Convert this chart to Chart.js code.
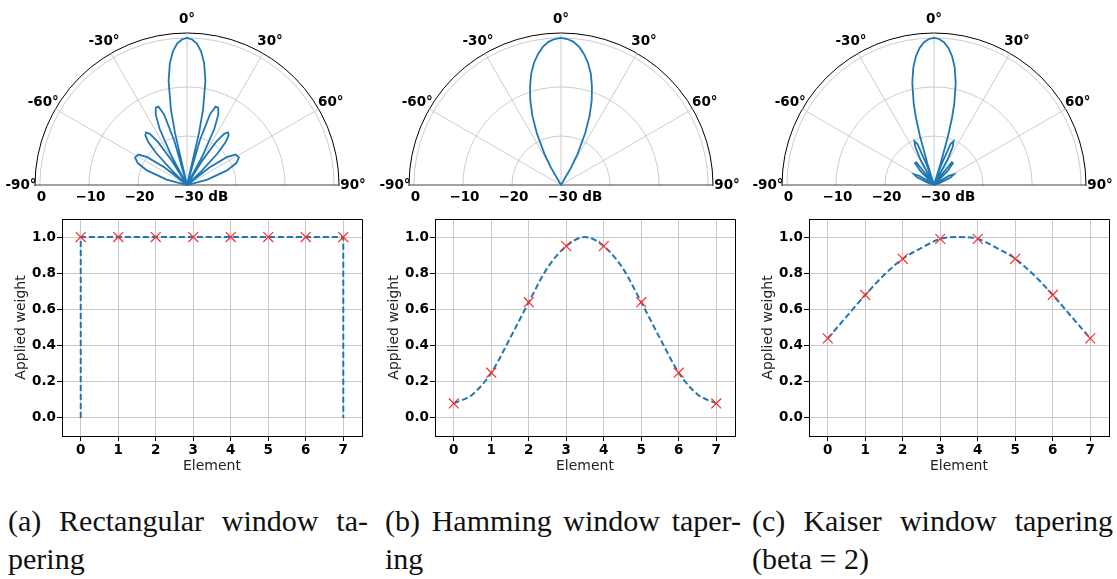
<!DOCTYPE html>
<html>
<head>
<meta charset="utf-8">
<script src="https://cdn.jsdelivr.net/npm/chart.js@4.4.1/dist/chart.umd.min.js"></script>
<style>
    body { margin: 0; background: #fff; }
    #page { position: relative; width: 1117px; height: 579px; overflow: hidden; background: #fff; }
    .polar { position: absolute; top: 0; width: 374px; height: 210px; overflow: hidden; }
    .weights { position: absolute; top: 205px; }
    .cap { position: absolute; font-family: 'Liberation Serif', serif; font-size: 30px; line-height: 38px; color: #111; white-space: nowrap; }
    .cap.j { text-align: justify; text-align-last: justify; white-space: normal; }
</style>
</head>
<body>
<div id="page">
    <div class="polar" style="left:0px"><canvas id="polarA" width="374" height="374"></canvas></div>
    <div class="polar" style="left:374px"><canvas id="polarB" width="374" height="374"></canvas></div>
    <div class="polar" style="left:747px"><canvas id="polarC" width="374" height="374"></canvas></div>

    <canvas class="weights" id="weightsA" width="373" height="275" style="left:0px"></canvas>
    <canvas class="weights" id="weightsB" width="373" height="275" style="left:373px"></canvas>
    <canvas class="weights" id="weightsC" width="373" height="275" style="left:747px"></canvas>

    <div class="cap j" style="left:8px; top:502px; width:360px">(a) Rectangular window ta-</div>
    <div class="cap" style="left:8px; top:540px">pering</div>
    <div class="cap j" style="left:385px; top:502px; width:356px">(b) Hamming window taper-</div>
    <div class="cap" style="left:385px; top:540px">ing</div>
    <div class="cap j" style="left:752px; top:502px; width:361px">(c) Kaiser window tapering</div>
    <div class="cap" style="left:752px; top:540px">(beta = 2)</div>
</div>

<script>
// Array elements and axis ticks
const elements = [0, 1, 2, 3, 4, 5, 6, 7];
const weightTicks = [0, 0.2, 0.4, 0.6, 0.8, 1.0];

// Weights applied to each element (red crosses)
const rectWeights = [1, 1, 1, 1, 1, 1, 1, 1];
const hammingWeights = [0.08, 0.25, 0.64, 0.95, 0.95, 0.64, 0.25, 0.08];
const kaiserWeights = [0.44, 0.68, 0.88, 0.99, 0.99, 0.88, 0.68, 0.44];

// Continuous window shape (dashed line)
const rectCurveX = [0, 0, 7, 7];
const rectCurveY = [0, 1, 1, 0];
const halfStepX = [0, 0.5, 1, 1.5, 2, 2.5, 3, 3.5, 4, 4.5, 5, 5.5, 6, 6.5, 7];
const hammingCurveY = [0.08, 0.13, 0.25, 0.44, 0.64, 0.83, 0.95, 1.0, 0.95, 0.83, 0.64, 0.44, 0.25, 0.13, 0.08];
const kaiserCurveY = [0.44, 0.56, 0.68, 0.79, 0.88, 0.94, 0.99, 1.0, 0.99, 0.94, 0.88, 0.79, 0.68, 0.56, 0.44];

// Beam patterns in dB, one side only (patterns are symmetric about 0°)
const rectAngles = [0, 2, 4, 6, 8, 10, 12, 13, 14.5, 16, 18, 20, 22, 24, 26, 28, 30, 32, 34, 36, 38, 40, 42, 44, 46, 48.5, 50, 52, 55, 58, 62, 66, 70, 75, 80, 90];
const rectDb = [0, -0.3, -1.1, -2.6, -4.9, -8.4, -14.2, -19.1, -30, -20.6, -14.9, -13.0, -13.0, -14.3, -17.3, -23.2, -30, -24.1, -19.4, -17.1, -16.4, -16.8, -18.2, -21.0, -25.9, -30, -30, -24.2, -20.1, -18.3, -18.0, -19.0, -21.3, -25.7, -30, -30];

const hammingAngles = [0, 2.5, 5, 7.5, 10, 12.5, 15, 17.5, 20, 22.5, 25, 28, 30, 32.5, 90];
const hammingDb = [0, -0.2, -0.7, -1.6, -2.9, -4.5, -6.5, -9.0, -11.7, -14.8, -18.3, -22.8, -25.9, -30, -30];

const kaiserAngles = [0, 2, 4, 6, 8, 10, 12, 14, 15, 16, 17, 18.5, 20, 22, 24, 26, 28, 30, 32, 35, 38, 41, 44, 47, 52, 55, 58, 62, 66, 70, 76, 90];
const kaiserDb = [0, -0.2, -0.8, -1.9, -3.5, -5.7, -8.7, -12.9, -15.8, -19.6, -25.3, -30, -25.4, -21.0, -20.2, -21.2, -24.0, -30, -30, -28.2, -24.1, -24.1, -26.0, -30, -30, -29.0, -26.4, -25.4, -26.3, -28.6, -30, -30];

// Polar axis ticks
const degreeTicks = [-90, -60, -30, 0, 30, 60, 90];
const dbTicks = [0, -10, -20, -30];
const dbRings = [-20, -10, 0];
const dbMin = -30;
const dbMax = 1;

Chart.defaults.font.family = "'DejaVu Sans', sans-serif";
Chart.defaults.color = '#000';

// Radar spokes every 0.5 degree, spoke 0 at the top, clockwise
const STEPS = 720;
const spokeLabels = Array.from({ length: STEPS }, (_, i) => i / 2);

function spoke(deg) {
    return Math.round((deg * 2 + STEPS) % STEPS);
}

function patternData(angles, db) {
    const out = new Array(STEPS).fill(null);
    angles.forEach((a, i) => {
        out[spoke(a)] = db[i];
        out[spoke(-a)] = db[i];
    });
    return out;
}

// Keep only the upper half of the radar and add matplotlib-like labels
const halfPolar = {
    id: 'halfPolar',
    beforeDraw(chart) {
        const r = chart.scales.r;
        const ctx = chart.ctx;
        ctx.save();
        ctx.beginPath();
        ctx.rect(0, 0, chart.width, r.yCenter + 1);
        ctx.clip();
    },
    afterDatasetsDraw(chart) {
        chart.ctx.restore();
    },
    afterDraw(chart) {
        const r = chart.scales.r;
        const ctx = chart.ctx;
        ctx.save();
        ctx.fillStyle = '#000';
        ctx.font = "bold 13.5px 'DejaVu Sans'";
        ctx.textAlign = 'center';
        ctx.textBaseline = 'middle';
        degreeTicks.forEach(d => {
            const p = r.getPointPosition(spoke(d), r.drawingArea + 14);
            ctx.fillText(d + '°', p.x, p.y);
        });
        // radial tick labels along the left baseline
        ctx.textAlign = 'left';
        dbTicks.forEach(v => {
            const num = '\u2212' + Math.abs(v);
            const txt = v === 0 ? '0' : (v === dbMin ? num + ' dB' : num);
            const w = ctx.measureText(v === 0 ? '0' : num).width;
            const x = r.xCenter - r.getDistanceFromCenterForValue(v) + 1.5;
            ctx.fillText(txt, x - w / 2, r.yCenter + 12);
        });
        ctx.restore();
    }
};

function polarChart(id, angles, db) {
    new Chart(document.getElementById(id), {
        type: 'radar',
        data: {
            labels: spokeLabels,
            datasets: [{
                data: patternData(angles, db),
                borderColor: '#1f77b4',
                backgroundColor: 'transparent',
                borderWidth: 1.8,
                fill: false,
                spanGaps: true,
                tension: 0,
                pointRadius: 0,
                pointHitRadius: 0
            }]
        },
        options: {
            responsive: false,
            animation: false,
            events: [],
            layout: { padding: { left: 35, right: 35, top: 33, bottom: 37 } },
            plugins: { legend: { display: false }, tooltip: { enabled: false } },
            scales: {
                r: {
                    min: dbMin,
                    max: dbMax,
                    beginAtZero: false,
                    afterBuildTicks: s => { s.ticks = [dbMin, ...dbRings, dbMax].map(v => ({ value: v })); },
                    ticks: { display: false },
                    pointLabels: { display: false },
                    grid: {
                        circular: true,
                        color: c => (c.tick && c.tick.value === dbMax ? '#000' : '#cccccc'),
                        lineWidth: 1
                    },
                    angleLines: {
                        color: c => (c.index === spoke(90) || c.index === spoke(-90) ? '#444' : '#cccccc'),
                        lineWidth: c => (c.index % 60 === 0 ? 1 : 0)
                    }
                }
            }
        },
        plugins: [halfPolar]
    });
}

// Full box round the plot area (top and right spines)
const frameBox = {
    id: 'frameBox',
    afterDraw(chart) {
        const { left, top, right, bottom } = chart.chartArea;
        const ctx = chart.ctx;
        ctx.save();
        ctx.strokeStyle = '#000';
        ctx.lineWidth = 1;
        ctx.beginPath();
        ctx.moveTo(Math.round(left), Math.round(top) + 0.5);
        ctx.lineTo(Math.round(right) + 0.5, Math.round(top) + 0.5);
        ctx.lineTo(Math.round(right) + 0.5, Math.round(bottom));
        ctx.stroke();
        ctx.restore();
    }
};

function weightChart(id, curveX, curveY, weights, smooth) {
    new Chart(document.getElementById(id), {
        type: 'scatter',
        data: {
            datasets: [{
                data: elements.map((x, i) => ({ x: x, y: weights[i] })),
                pointStyle: 'crossRot',
                pointRadius: 7,
                pointBorderColor: '#ff2a2a',
                pointBorderWidth: 1.2,
                showLine: false
            }, {
                data: curveX.map((x, i) => ({ x: x, y: curveY[i] })),
                showLine: true,
                borderColor: '#1f77b4',
                borderWidth: 2,
                borderDash: [6, 3],
                pointRadius: 0,
                tension: 0,
                cubicInterpolationMode: smooth ? 'monotone' : 'default'
            }]
        },
        options: {
            responsive: false,
            animation: false,
            events: [],
            layout: { padding: { top: 14, right: 11 } },
            plugins: { legend: { display: false }, tooltip: { enabled: false } },
            scales: {
                x: {
                    type: 'linear',
                    min: -0.5,
                    max: 7.5,
                    afterBuildTicks: s => { s.ticks = elements.map(v => ({ value: v })); },
                    afterFit: s => { s.height = 44; },
                    grid: { color: '#c8c8c8', tickColor: '#000', tickLength: 5 },
                    border: { color: '#000', width: 1 },
                    ticks: { font: { weight: 'bold', size: 13.5 }, color: '#000', padding: 1, maxRotation: 0 },
                    title: { display: true, text: 'Element', font: { size: 14 }, color: '#222', padding: { top: 0, bottom: 5 } }
                },
                y: {
                    min: -0.1,
                    max: 1.1,
                    afterBuildTicks: s => { s.ticks = weightTicks.map(v => ({ value: v })); },
                    afterFit: s => { s.width = 62; },
                    grid: { color: '#c8c8c8', tickColor: '#000', tickLength: 5 },
                    border: { color: '#000', width: 1 },
                    ticks: { font: { weight: 'bold', size: 13.5 }, color: '#000', padding: 1, callback: v => v.toFixed(1) },
                    title: { display: true, text: 'Applied weight', font: { size: 14 }, color: '#222', padding: { top: 13, bottom: 0 } }
                }
            }
        },
        plugins: [frameBox]
    });
}

polarChart('polarA', rectAngles, rectDb);
polarChart('polarB', hammingAngles, hammingDb);
polarChart('polarC', kaiserAngles, kaiserDb);

weightChart('weightsA', rectCurveX, rectCurveY, rectWeights, false);
weightChart('weightsB', halfStepX, hammingCurveY, hammingWeights, true);
weightChart('weightsC', halfStepX, kaiserCurveY, kaiserWeights, true);
</script>
</body>
</html>
